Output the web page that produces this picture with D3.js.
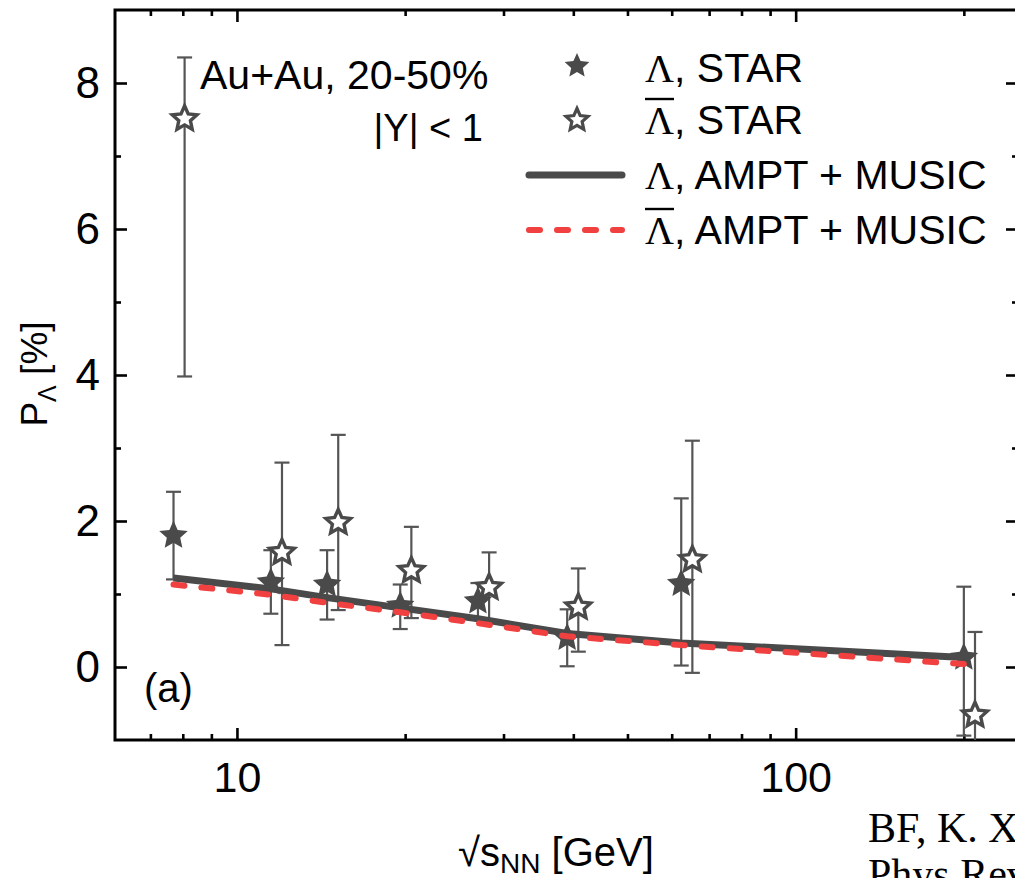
<!DOCTYPE html>
<html>
<head>
<meta charset="utf-8">
<script src="https://cdn.jsdelivr.net/npm/d3@7"></script>
<style>
  html, body { margin: 0; padding: 0; background: #fff; overflow: hidden; }
  svg { display: block; }
</style>
</head>
<body>
<div id="chart"></div>
<script>
// Beam energies (GeV) and global Λ / anti-Λ polarization, Au+Au 20-50%
const energies = [7.7, 11.5, 14.5, 19.6, 27, 39, 62.4, 200];
const lambdaStar = [1.80, 1.16, 1.13, 0.84, 0.90, 0.40, 1.14, 0.13];
const lambdaStarLow = [1.20, 0.73, 0.65, 0.52, 0.65, 0.01, 0.02, -0.94];
const lambdaStarHigh = [2.40, 1.60, 1.60, 1.13, 1.15, 0.79, 2.31, 1.10];

// anti-Λ points are drawn slightly to the right of the nominal energy
const antiEnergies = [8.06, 12.04, 15.18, 20.52, 28.27, 40.83, 65.33, 209.4];
const antiLambdaStar = [7.51, 1.57, 1.98, 1.32, 1.09, 0.82, 1.47, -0.66];
const antiLambdaStarLow = [3.98, 0.30, 0.78, 0.67, 0.61, 0.21, -0.08, -1.80];
const antiLambdaStarHigh = [8.35, 2.80, 3.18, 1.92, 1.57, 1.35, 3.10, 0.48];

// AMPT + MUSIC model curves
const modelLambda = [1.22, 1.07, 0.95, 0.81, 0.66, 0.46, 0.33, 0.13];
const modelAntiLambda = [1.13, 0.99, 0.88, 0.75, 0.60, 0.42, 0.30, 0.04];

// axis ticks
const xMajorTicks = [10, 100];
const xMinorTicks = [7, 8, 9, 20, 30, 40, 50, 60, 70, 80, 90, 200];
const yMajorTicks = [0, 2, 4, 6, 8];
const yMinorTicks = [1, 3, 5, 7];

const W = 1015, H = 878;
const plot = { left: 115, right: 1018, top: 10, bottom: 740 };
const SANS = "'Liberation Sans', Arial, Helvetica, sans-serif";
const SERIF = "'Liberation Serif', 'Times New Roman', Times, serif";
const DARK = "#4a4a4a";
const BAR = "#555555";
const RED = "#f0403f";

const svg = d3.select("#chart").append("svg")
  .attr("width", W).attr("height", H)
  .attr("viewBox", `0 0 ${W} ${H}`);

const x = d3.scaleLog().domain([6.05, 250]).range([plot.left, plot.right]);
const y = d3.scaleLinear().domain([-1, 9]).range([plot.bottom, plot.top]);

svg.append("defs").append("clipPath").attr("id", "plot-clip")
  .append("rect")
  .attr("x", plot.left).attr("y", plot.top)
  .attr("width", plot.right - plot.left).attr("height", plot.bottom - plot.top);

// ---- axes (ticks point inward) ----
function styleAxis(g) {
  g.select(".domain").remove();
  g.selectAll(".tick line").attr("stroke", "#000").attr("stroke-width", 2.6);
  g.selectAll(".tick text").attr("fill", "#000").attr("font-family", SANS);
}

svg.append("g").attr("transform", `translate(0,${plot.bottom})`)
  .call(d3.axisBottom(x).tickValues(xMajorTicks).tickSize(-12).tickPadding(21)
    .tickFormat(d3.format("d")))
  .call(styleAxis)
  .call(g => g.selectAll(".tick text").attr("font-size", 43));
svg.append("g").attr("transform", `translate(0,${plot.bottom})`)
  .call(d3.axisBottom(x).tickValues(xMinorTicks).tickSize(-6).tickFormat(""))
  .call(styleAxis);
svg.append("g").attr("transform", `translate(0,${plot.top})`)
  .call(d3.axisTop(x).tickValues(xMajorTicks).tickSize(-12).tickFormat(""))
  .call(styleAxis);
svg.append("g").attr("transform", `translate(0,${plot.top})`)
  .call(d3.axisTop(x).tickValues(xMinorTicks).tickSize(-6).tickFormat(""))
  .call(styleAxis);

svg.append("g").attr("transform", `translate(${plot.left},0)`)
  .call(d3.axisLeft(y).tickValues(yMajorTicks).tickSize(-12).tickPadding(15)
    .tickFormat(d3.format("d")))
  .call(styleAxis)
  .call(g => g.selectAll(".tick text").attr("font-size", 44));
svg.append("g").attr("transform", `translate(${plot.left},0)`)
  .call(d3.axisLeft(y).tickValues(yMinorTicks).tickSize(-6).tickFormat(""))
  .call(styleAxis);
svg.append("g").attr("transform", `translate(${plot.right},0)`)
  .call(d3.axisRight(y).tickValues(yMajorTicks).tickSize(-12).tickFormat(""))
  .call(styleAxis);
svg.append("g").attr("transform", `translate(${plot.right},0)`)
  .call(d3.axisRight(y).tickValues(yMinorTicks).tickSize(-6).tickFormat(""))
  .call(styleAxis);

// frame
svg.append("rect")
  .attr("x", plot.left).attr("y", plot.top)
  .attr("width", plot.right - plot.left).attr("height", plot.bottom - plot.top)
  .attr("fill", "none").attr("stroke", "#000").attr("stroke-width", 3);

// ---- data layer ----
const layer = svg.append("g").attr("clip-path", "url(#plot-clip)");

// five-pointed star with a fairly wide body; size = outer radius squared
const fatStar = {
  draw(context, size) {
    const R = Math.sqrt(size), r = R * 0.47;
    for (let k = 0; k < 10; k++) {
      const rad = k % 2 ? r : R;
      const a = -Math.PI / 2 + k * Math.PI / 5;
      const px = rad * Math.cos(a), py = rad * Math.sin(a);
      if (k === 0) context.moveTo(px, py); else context.lineTo(px, py);
    }
    context.closePath();
  }
};
const star = d3.symbol().type(fatStar);
const capHalf = 7.5;

function errorBars(xs, lows, highs) {
  const g = layer.append("g").attr("stroke", BAR).attr("stroke-width", 2.2).attr("fill", "none");
  xs.forEach((e, i) => {
    const cx = x(e);
    g.append("line").attr("x1", cx).attr("x2", cx).attr("y1", y(lows[i])).attr("y2", y(highs[i]));
    g.append("line").attr("x1", cx - capHalf).attr("x2", cx + capHalf).attr("y1", y(highs[i])).attr("y2", y(highs[i]));
    g.append("line").attr("x1", cx - capHalf).attr("x2", cx + capHalf).attr("y1", y(lows[i])).attr("y2", y(lows[i]));
  });
}

errorBars(energies, lambdaStarLow, lambdaStarHigh);
errorBars(antiEnergies, antiLambdaStarLow, antiLambdaStarHigh);

layer.append("g").selectAll("path")
  .data(energies.map((e, i) => [e, lambdaStar[i]]))
  .join("path")
  .attr("d", star.size(15 * 15)())
  .attr("transform", d => `translate(${x(d[0])},${y(d[1])})`)
  .attr("fill", DARK);

layer.append("g").selectAll("path")
  .data(antiEnergies.map((e, i) => [e, antiLambdaStar[i]]))
  .join("path")
  .attr("d", star.size(13 * 13)())
  .attr("transform", d => `translate(${x(d[0])},${y(d[1])})`)
  .attr("fill", "#fff").attr("stroke", DARK).attr("stroke-width", 3.4)
  .attr("stroke-linejoin", "miter");

const line = d3.line().x(d => x(d[0])).y(d => y(d[1]));

layer.append("path")
  .attr("d", line(energies.map((e, i) => [e, modelLambda[i]])))
  .attr("fill", "none").attr("stroke", DARK).attr("stroke-width", 7)
  .attr("stroke-linejoin", "round");

layer.append("path")
  .attr("d", line(energies.map((e, i) => [e, modelAntiLambda[i]])))
  .attr("fill", "none").attr("stroke", RED).attr("stroke-width", 6)
  .attr("stroke-dasharray", "11 17").attr("stroke-linecap", "round");

// ---- annotations ----
svg.append("text").attr("x", 200).attr("y", 89)
  .attr("font-family", SANS).attr("font-size", 41).text("Au+Au, 20-50%");
svg.append("text").attr("x", 483).attr("y", 141).attr("text-anchor", "end")
  .attr("font-family", SANS).attr("font-size", 38).text("|Y| < 1");
svg.append("text").attr("x", 144).attr("y", 702)
  .attr("font-family", SANS).attr("font-size", 40).text("(a)");

// ---- legend ----
const legendItems = [
  { bar: false, label: ", STAR", kind: "filled" },
  { bar: true, label: ", STAR", kind: "open" },
  { bar: false, label: ", AMPT + MUSIC", kind: "solid" },
  { bar: true, label: ", AMPT + MUSIC", kind: "dashed" }
];
const legendBaselines = [82, 134, 189, 244];
const legendG = svg.append("g");
legendItems.forEach((item, i) => {
  const base = legendBaselines[i];
  const mid = base - 14;
  if (item.kind === "filled") {
    legendG.append("path").attr("d", star.size(13 * 13)())
      .attr("transform", `translate(577,${mid - 2})`).attr("fill", DARK);
  } else if (item.kind === "open") {
    legendG.append("path").attr("d", star.size(11.5 * 11.5)())
      .attr("transform", `translate(577,${mid})`)
      .attr("fill", "#fff").attr("stroke", DARK).attr("stroke-width", 3.2);
  } else if (item.kind === "solid") {
    legendG.append("line").attr("x1", 529).attr("x2", 622).attr("y1", mid).attr("y2", mid)
      .attr("stroke", DARK).attr("stroke-width", 7).attr("stroke-linecap", "round");
  } else {
    legendG.append("line").attr("x1", 529).attr("x2", 622).attr("y1", mid).attr("y2", mid)
      .attr("stroke", RED).attr("stroke-width", 6)
      .attr("stroke-dasharray", "11 17").attr("stroke-linecap", "round");
  }
  const lam = legendG.append("text").attr("x", 645).attr("y", base)
    .attr("font-family", SERIF).attr("font-size", 40).text("Λ");
  const w = lam.node().getBBox().width;
  if (item.bar) {
    legendG.append("line").attr("x1", 645).attr("x2", 645 + w)
      .attr("y1", base - 35).attr("y2", base - 35)
      .attr("stroke", "#000").attr("stroke-width", 2.4);
  }
  legendG.append("text").attr("x", 645 + w).attr("y", base)
    .attr("font-family", SANS).attr("font-size", 41).text(item.label);
});

// ---- axis titles ----
const yTitle = svg.append("text")
  .attr("transform", "translate(47,374) rotate(-90)")
  .attr("text-anchor", "middle")
  .attr("font-family", SANS).attr("font-size", 37);
yTitle.append("tspan").text("P");
yTitle.append("tspan").attr("font-size", 25).attr("dy", 9).text("Λ");
yTitle.append("tspan").attr("dy", -9).text(" [%]");

const xTitle = svg.append("text")
  .attr("x", 556).attr("y", 866)
  .attr("text-anchor", "middle")
  .attr("font-family", SANS).attr("font-size", 40);
xTitle.append("tspan").text("√s");
xTitle.append("tspan").attr("font-size", 28).attr("dy", 7).text("NN");
xTitle.append("tspan").attr("dy", -7).text(" [GeV]");

// ---- reference ----
svg.append("text").attr("x", 868).attr("y", 842)
  .attr("font-family", SERIF).attr("font-size", 42)
  .text("BF, K. Xu, X.-G. Huang, H. Song,");
svg.append("text").attr("x", 868).attr("y", 888)
  .attr("font-family", SERIF).attr("font-size", 42)
  .text("Phys.Rev.C 103, 024903 (2021)");
</script>
</body>
</html>
